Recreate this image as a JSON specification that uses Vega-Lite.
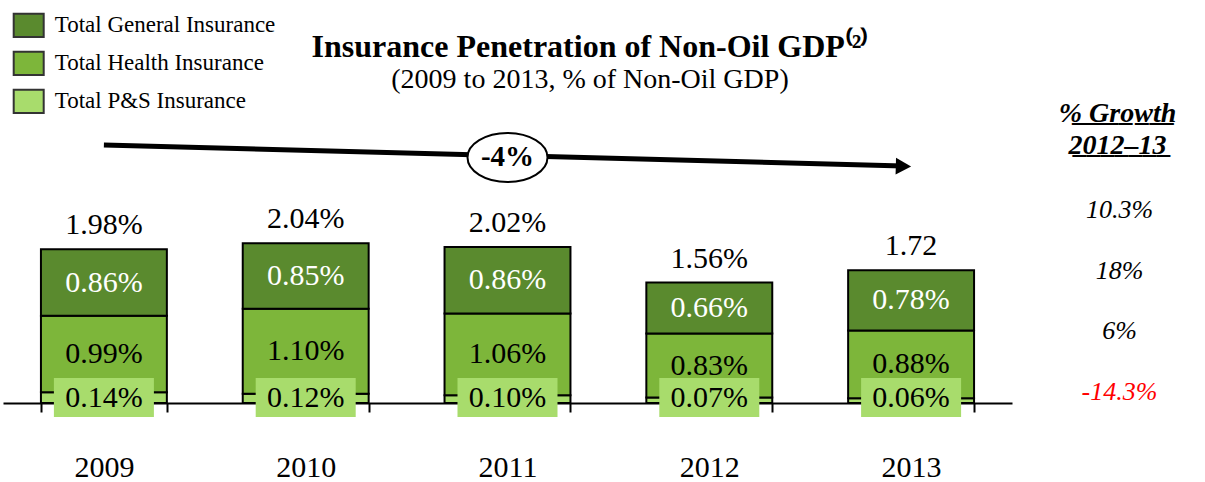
{
  "$schema": "https://vega.github.io/schema/vega-lite/v6.json",
  "padding": {"left": 3, "top": 0, "right": 0, "bottom": 0},
  "background": "white",
  "spacing": 0,
  "config": {"view": {"stroke": null}, "font": "Liberation Serif"},
  "title": {
    "text": "Insurance Penetration of Non-Oil GDP⁽²⁾",
    "subtitle": "(2009 to 2013, % of Non-Oil GDP)",
    "font": "Liberation Serif",
    "subtitleFont": "Liberation Serif",
    "fontSize": 32,
    "subtitleFontSize": 28,
    "fontWeight": "bold",
    "color": "black",
    "subtitleColor": "black",
    "anchor": "middle",
    "frame": "bounds",
    "offset": -95,
    "dx": -14,
    "subtitlePadding": 2
  },
  "hconcat": [
    {
      "width": 1009,
      "height": 403,
      "data": {
        "values": [
          {"year": "2009", "segment": "Total P&S Insurance", "order": 1, "value": 0.14, "label": "0.14%", "total": "1.98%"},
          {"year": "2009", "segment": "Total Health Insurance", "order": 2, "value": 0.99, "label": "0.99%", "total": "1.98%"},
          {"year": "2009", "segment": "Total General Insurance", "order": 3, "value": 0.86, "label": "0.86%", "total": "1.98%"},
          {"year": "2010", "segment": "Total P&S Insurance", "order": 1, "value": 0.12, "label": "0.12%", "total": "2.04%"},
          {"year": "2010", "segment": "Total Health Insurance", "order": 2, "value": 1.10, "label": "1.10%", "total": "2.04%"},
          {"year": "2010", "segment": "Total General Insurance", "order": 3, "value": 0.85, "label": "0.85%", "total": "2.04%"},
          {"year": "2011", "segment": "Total P&S Insurance", "order": 1, "value": 0.10, "label": "0.10%", "total": "2.02%"},
          {"year": "2011", "segment": "Total Health Insurance", "order": 2, "value": 1.06, "label": "1.06%", "total": "2.02%"},
          {"year": "2011", "segment": "Total General Insurance", "order": 3, "value": 0.86, "label": "0.86%", "total": "2.02%"},
          {"year": "2012", "segment": "Total P&S Insurance", "order": 1, "value": 0.07, "label": "0.07%", "total": "1.56%"},
          {"year": "2012", "segment": "Total Health Insurance", "order": 2, "value": 0.83, "label": "0.83%", "total": "1.56%"},
          {"year": "2012", "segment": "Total General Insurance", "order": 3, "value": 0.66, "label": "0.66%", "total": "1.56%"},
          {"year": "2013", "segment": "Total P&S Insurance", "order": 1, "value": 0.06, "label": "0.06%", "total": "1.72"},
          {"year": "2013", "segment": "Total Health Insurance", "order": 2, "value": 0.88, "label": "0.88%", "total": "1.72"},
          {"year": "2013", "segment": "Total General Insurance", "order": 3, "value": 0.78, "label": "0.78%", "total": "1.72"}
        ]
      },
      "layer": [
        {
          "mark": {"type": "bar", "stroke": "black", "strokeWidth": 2, "opacity": 1},
          "encoding": {
            "x": {
              "field": "year", "type": "nominal", "sort": null,
              "scale": {"paddingInner": 0.376, "paddingOuter": 0.188},
              "axis": {
                "title": null, "labelAngle": 0, "domainColor": "black", "domainWidth": 2,
                "tickColor": "black", "tickWidth": 2, "tickSize": 9, "tickBand": "extent",
                "labelFont": "Liberation Serif", "labelFontSize": 30, "labelColor": "black",
                "labelPadding": 40
              }
            },
            "y": {
              "field": "value", "type": "quantitative", "stack": "zero",
              "scale": {"domain": [0, 5.22], "nice": false, "zero": true},
              "axis": null
            },
            "order": {"field": "order", "type": "quantitative", "sort": "ascending"},
            "color": {
              "field": "segment", "type": "nominal",
              "scale": {
                "domain": ["Total General Insurance", "Total Health Insurance", "Total P&S Insurance"],
                "range": ["#5a8a2e", "#7db63a", "#a8dc6c"]
              },
              "legend": {
                "title": null, "orient": "none", "legendX": 9.7, "legendY": 9.4,
                "direction": "vertical",
                "symbolType": "M-1,-0.77H1V0.77H-1Z", "symbolSize": 900,
                "symbolStrokeColor": "#333333", "symbolStrokeWidth": 2, "symbolOpacity": 1,
                "labelFont": "Liberation Serif", "labelFontSize": 23, "labelColor": "black",
                "labelOffset": 10, "rowPadding": 6, "labelLimit": 400
              }
            }
          }
        },
        {
          "transform": [
            {"stack": "value", "groupby": ["year"], "sort": [{"field": "order", "order": "ascending"}], "as": ["v0", "v1"]},
            {"filter": "datum.segment !== 'Total P&S Insurance'"},
            {"fold": ["v0", "v1"], "as": ["edge", "pos"]}
          ],
          "mark": {"type": "text", "fontSize": 30, "baseline": "middle", "font": "Liberation Serif"},
          "encoding": {
            "x": {"field": "year", "type": "nominal", "sort": null},
            "y": {"aggregate": "mean", "field": "pos", "type": "quantitative"},
            "detail": {"field": "segment", "type": "nominal"},
            "text": {"field": "label", "type": "nominal"},
            "color": {
              "condition": {"test": "datum.segment === 'Total General Insurance'", "value": "white"},
              "value": "black"
            }
          }
        },
        {
          "transform": [{"filter": "datum.segment === 'Total P&S Insurance'"}],
          "mark": {"type": "point", "filled": true, "opacity": 1, "color": "#a8dc6c", "shape": "M-1,-0.39H1V0.39H-1Z", "size": 10000, "strokeWidth": 0},
          "encoding": {
            "x": {"field": "year", "type": "nominal", "sort": null},
            "y": {"datum": 0.07, "type": "quantitative"}
          }
        },
        {
          "transform": [{"filter": "datum.segment === 'Total P&S Insurance'"}],
          "mark": {"type": "text", "fontSize": 30, "baseline": "middle", "color": "black", "font": "Liberation Serif"},
          "encoding": {
            "x": {"field": "year", "type": "nominal", "sort": null},
            "y": {"datum": 0.07, "type": "quantitative"},
            "text": {"field": "label", "type": "nominal"}
          }
        },
        {
          "mark": {"type": "text", "fontSize": 30, "baseline": "alphabetic", "color": "black", "dy": -15, "font": "Liberation Serif"},
          "encoding": {
            "x": {"field": "year", "type": "nominal", "sort": null},
            "y": {"aggregate": "sum", "field": "value", "type": "quantitative"},
            "detail": {"field": "total", "type": "nominal"},
            "text": {"field": "total", "type": "nominal"}
          }
        },
        {
          "data": {"values": [{}]},
          "mark": {"type": "rule", "color": "black", "strokeWidth": 5, "x2Offset": -8},
          "encoding": {
            "x": {"datum": "2009", "type": "nominal"},
            "x2": {"datum": "2013"},
            "y": {"datum": 3.342, "type": "quantitative"},
            "y2": {"datum": 3.07}
          }
        },
        {
          "data": {"values": [{}]},
          "mark": {"type": "point", "filled": true, "opacity": 1, "color": "black", "shape": "M-1.8,-1L0,0L-1.8,1Z", "size": 289, "angle": 1.5, "strokeWidth": 0},
          "encoding": {
            "x": {"datum": "2013", "type": "nominal"},
            "y": {"datum": 3.063, "type": "quantitative"}
          }
        },
        {
          "data": {"values": [{}]},
          "mark": {"type": "point", "filled": false, "opacity": 1, "fill": "white", "fillOpacity": 1, "stroke": "black", "strokeWidth": 2, "shape": "M-1,0A1,0.6125,0,1,0,1,0A1,0.6125,0,1,0,-1,0Z", "size": 6400},
          "encoding": {
            "x": {"datum": "2011", "type": "nominal"},
            "y": {"datum": 3.18, "type": "quantitative"}
          }
        },
        {
          "data": {"values": [{"t": "-4%"}]},
          "mark": {"type": "text", "fontSize": 29, "fontWeight": "bold", "baseline": "middle", "color": "black", "font": "Liberation Serif"},
          "encoding": {
            "x": {"datum": "2011", "type": "nominal"},
            "y": {"datum": 3.18, "type": "quantitative"},
            "text": {"field": "t", "type": "nominal"}
          }
        }
      ]
    },
    {
      "width": 193,
      "height": 403,
      "data": {
        "values": [
          {"cat": "Total", "growth": "10.3%"},
          {"cat": "General", "growth": "18%"},
          {"cat": "Health", "growth": "6%"},
          {"cat": "P&S", "growth": "-14.3%"}
        ]
      },
      "title": {
        "text": ["%̲ ̲G̲r̲o̲w̲t̲h̲", "2̲0̲1̲2̲–̲1̲3̲"],
        "font": "Liberation Serif",
        "fontSize": 28,
        "fontStyle": "italic",
        "fontWeight": "bold",
        "color": "black",
        "anchor": "middle",
        "lineHeight": 32,
        "offset": -160,
        "dx": 9
      },
      "mark": {"type": "text", "fontSize": 26, "fontStyle": "italic", "baseline": "middle", "dx": 11, "font": "Liberation Serif"},
      "encoding": {
        "y": {
          "field": "cat", "type": "nominal",
          "scale": {"type": "point", "padding": 0, "domain": ["Total", "General", "Health", "P&S"], "range": [210, 392]},
          "axis": null
        },
        "text": {"field": "growth", "type": "nominal"},
        "color": {
          "condition": {"test": "datum.cat === 'P&S'", "value": "#ff0000"},
          "value": "black"
        }
      }
    }
  ]
}
